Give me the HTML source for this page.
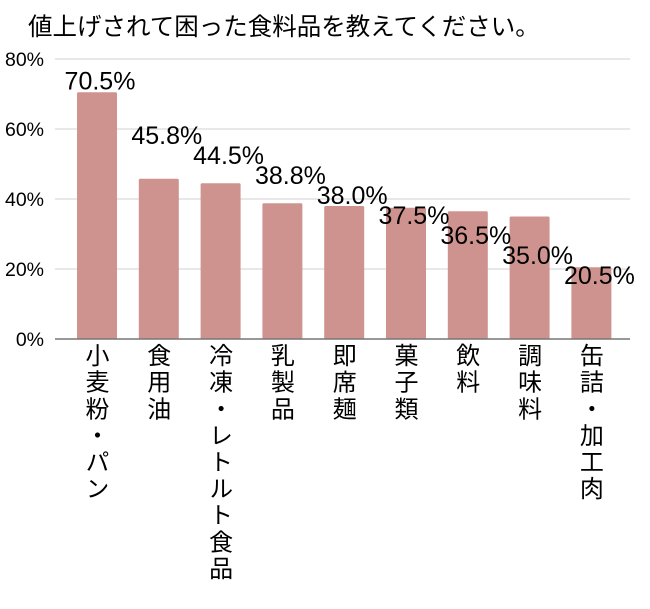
<!DOCTYPE html>
<html><head><meta charset="utf-8">
<style>
body{margin:0;background:#fff;width:650px;height:609px;overflow:hidden;font-family:"Liberation Sans","Noto Sans CJK JP",sans-serif;}
svg{position:absolute;left:0;top:0}
.cat{position:absolute;top:343px;writing-mode:vertical-rl;font-family:"Noto Sans CJK JP",sans-serif;font-size:24px;line-height:26px;letter-spacing:2.6px;color:#000;}
</style></head><body>
<svg id="chart" width="650" height="609">
<text x="28" y="35" font-size="24.5" font-family="Liberation Sans, Noto Sans CJK JP, sans-serif">値上げされて困った食料品を教えてください。</text>
</svg>
<script>
const categories=["小麦粉・パン","食用油","冷凍・レトルト食品","乳製品","即席麺","菓子類","飲料","調味料","缶詰・加工肉"];
const values=[70.5,45.8,44.5,38.8,38.0,37.5,36.5,35.0,20.5];
const labels=["70.5%","45.8%","44.5%","38.8%","38.0%","37.5%","36.5%","35.0%","20.5%"];
const ticks=[0,20,40,60,80];
const NS="http://www.w3.org/2000/svg";
const svg=document.getElementById('chart');
const y=v=>339-v*3.5;
const xc=i=>97+i*61.8;
function mk(t,a){const e=document.createElementNS(NS,t);for(const k in a)e.setAttribute(k,a[k]);svg.appendChild(e);return e;}
ticks.forEach(t=>{
 if(t>0){const g=mk('line',{x1:55,x2:630,y1:y(t),y2:y(t),stroke:'#d9d9d9','stroke-width':1.3});
 
 }
 const l=mk('text',{x:44,y:y(t)+7,'text-anchor':'end','font-size':19.5});
 l.textContent=t+'%';
 
 
});
values.forEach((v,i)=>{
 const b=mk('rect',{x:xc(i)-20,y:y(v),width:40,height:339-y(v),fill:'#cf938f',rx:1.5});
 
 
 const d=document.createElement('div');
 d.className='cat';
 d.style.left=(xc(i)-13)+'px';
 d.textContent=categories[i];
 
 
 document.body.appendChild(d);
});
values.forEach((v,i)=>{
 const by=i===0?y(v)-3:124+20*i;
 const t=mk('text',{x:xc(i)+(i===0?3:8),y:by,'text-anchor':'middle','font-size':25});
 t.textContent=labels[i];
 
 
});
const ax=mk('line',{x1:55,x2:630,y1:339,y2:339,stroke:'#777','stroke-width':1.5});


</script>
</body></html>
